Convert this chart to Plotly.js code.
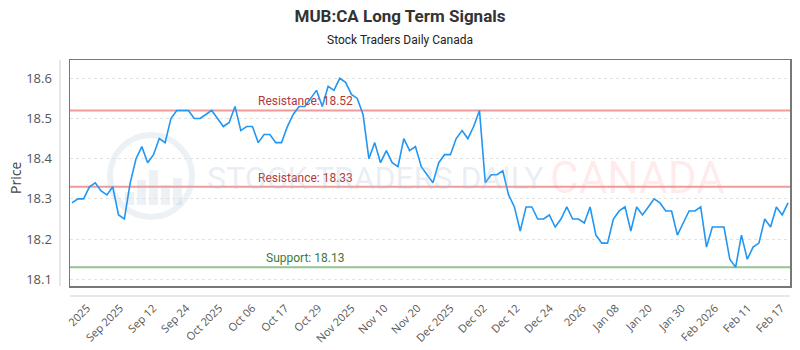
<!DOCTYPE html>
<html>
<head>
<meta charset="utf-8">
<script src="https://cdn.plot.ly/plotly-3.0.1.min.js"></script>
<style>
html,body{margin:0;padding:0;background:#fff;}
#chart{width:800px;height:350px;}
</style>
</head>
<body>
<div id="chart"></div>
<script>
// ---- data ----
const prices = [
  18.29, 18.30, 18.30, 18.33, 18.34, 18.32, 18.31, 18.33, 18.26, 18.25,
  18.34, 18.40, 18.43, 18.39, 18.41, 18.45, 18.44, 18.50, 18.52, 18.52,
  18.52, 18.50, 18.50, 18.51, 18.52, 18.50, 18.48, 18.49, 18.53, 18.47,
  18.48, 18.48, 18.44, 18.46, 18.46, 18.44, 18.44, 18.48, 18.51, 18.53,
  18.53, 18.55, 18.57, 18.53, 18.58, 18.57, 18.60, 18.59, 18.56, 18.55,
  18.51, 18.40, 18.44, 18.39, 18.42, 18.39, 18.38, 18.45, 18.42, 18.43,
  18.38, 18.36, 18.34, 18.39, 18.41, 18.41, 18.45, 18.47, 18.45, 18.48,
  18.52, 18.34, 18.36, 18.36, 18.37, 18.31, 18.28, 18.22, 18.28, 18.28,
  18.25, 18.25, 18.26, 18.23, 18.25, 18.28, 18.25, 18.25, 18.24, 18.28,
  18.21, 18.19, 18.19, 18.25, 18.27, 18.28, 18.22, 18.28, 18.26, 18.28,
  18.30, 18.29, 18.27, 18.27, 18.21, 18.24, 18.27, 18.27, 18.28, 18.18,
  18.23, 18.23, 18.23, 18.15, 18.13, 18.21, 18.15, 18.18, 18.19, 18.25,
  18.23, 18.28, 18.26, 18.29
];
const tickLabels = ["2025","Sep 2025","Sep 12","Sep 24","Oct 2025","Oct 06","Oct 17","Oct 29",
  "Nov 2025","Nov 10","Nov 20","Dec 2025","Dec 02","Dec 12","Dec 24","2026","Jan 08","Jan 20",
  "Jan 30","Feb 2026","Feb 11","Feb 17"];
const resistanceLevels = [18.52, 18.33];
const supportLevels = [18.13];
const yTicks = [18.1, 18.2, 18.3, 18.4, 18.5, 18.6];

// ---- build ----
const xIdx = prices.map((_, i) => i);
const n = prices.length;
const tickStart = 2.6, tickEnd = n - 1 - 1.2;
const tickStep = (tickEnd - tickStart) / (tickLabels.length - 1);
const tickVals = tickLabels.map((_, k) => tickStart + k * tickStep);

const shapes = [];
const annotations = [];
const labelX = (305 - 70) / 720;
resistanceLevels.forEach(v => {
  shapes.push({type:'line', xref:'paper', x0:0, x1:1, yref:'y', y0:v, y1:v,
    line:{color:'rgba(235,120,120,0.75)', width:2}, layer:'below'});
  annotations.push({xref:'paper', x:labelX, xanchor:'center', yref:'y', y:v, yshift:9,
    text:'Resistance: ' + v.toFixed(2), showarrow:false,
    font:{family:'Roboto, sans-serif', size:12, color:'#b03a3a'}});
});
supportLevels.forEach(v => {
  shapes.push({type:'line', xref:'paper', x0:0, x1:1, yref:'y', y0:v, y1:v,
    line:{color:'rgba(110,175,110,0.75)', width:2}, layer:'below'});
  annotations.push({xref:'paper', x:labelX, xanchor:'center', yref:'y', y:v, yshift:9,
    text:'Support: ' + v.toFixed(2), showarrow:false,
    font:{family:'Roboto, sans-serif', size:12, color:'#3c7a3c'}});
});
// offset light axis lines
shapes.push({type:'line', xref:'paper', yref:'paper', x0:-10/720, x1:-10/720, y0:0, y1:1,
  line:{color:'#cfcfcf', width:1}});
shapes.push({type:'line', xref:'paper', yref:'paper', x0:0, x1:1, y0:-10/226, y1:-10/226,
  line:{color:'#cfcfcf', width:1}});
// watermark logo
const wm = 'rgba(170,190,215,0.22)';
shapes.push({type:'circle', xref:'paper', yref:'paper', x0:(110-70)/720, x1:(192-70)/720,
  y0:(286-217)/226, y1:(286-135)/226, line:{color:wm, width:6}, layer:'below'});
[[125,134,192],[137,146,180],[149,158,170],[161,170,185],[173,182,178]].forEach(b => {
  shapes.push({type:'rect', xref:'paper', yref:'paper', x0:(b[0]-70)/720, x1:(b[1]-70)/720,
    y0:(286-205)/226, y1:(286-b[2])/226, fillcolor:wm, line:{width:0}, layer:'below'});
});
annotations.push({xref:'paper', yref:'paper', x:(205-70)/720, y:(286-178)/226, xanchor:'left',
  text:'STOCK TRADERS DAILY', showarrow:false,
  font:{family:'Roboto, sans-serif', size:32, color:'rgba(170,190,215,0.26)'}});
annotations.push({xref:'paper', yref:'paper', x:(548-70)/720, y:(286-178)/226, xanchor:'left',
  text:'CANADA', showarrow:false,
  font:{family:'Roboto, sans-serif', size:44, color:'rgba(255,130,130,0.16)'}});
annotations.push({xref:'paper', yref:'paper', x:(400-70)/720, y:(286-40)/226, xanchor:'center', yanchor:'middle',
  text:'Stock Traders Daily Canada', showarrow:false,
  font:{family:'Roboto, sans-serif', size:12, color:'#222'}});
annotations.push({xref:'paper', yref:'paper', x:(15-70)/720, y:(286-178)/226, xanchor:'center', yanchor:'middle',
  text:'Price', textangle:-90, showarrow:false,
  font:{family:'"Open Sans", sans-serif', size:14, color:'#444'}});

const trace = {
  x: xIdx, y: prices, type:'scatter', mode:'lines',
  line:{color:'#2196f3', width:1.6}, hoverinfo:'y'
};

const layout = {
  width:800, height:350,
  margin:{l:70, r:10, t:60, b:64},
  paper_bgcolor:'#fff', plot_bgcolor:'#fff',
  showlegend:false,
  title:{text:'<b>MUB:CA Long Term Signals</b>', x:0.5, xanchor:'center', y:1-16/350, yanchor:'middle',
    font:{family:'Roboto, sans-serif', size:17, color:'#333'}},
  xaxis:{
    range:[-0.34, n - 1 + 0.34], showgrid:false, zeroline:false,
    showline:true, mirror:true, linecolor:'#777', linewidth:1.5,
    tickmode:'array', tickvals:tickVals, ticktext:tickLabels, tickangle:-45,
    ticks:'outside', ticklen:10, tickcolor:'rgba(0,0,0,0)',
    tickfont:{family:'"Open Sans", sans-serif', size:11, color:'#555'}
  },
  yaxis:{
    range:[18.0833, 18.6455], zeroline:false,
    showline:true, mirror:true, linecolor:'#777', linewidth:1.5,
    tickmode:'array', tickvals:yTicks, ticktext:yTicks.map(v => v.toFixed(1)),
    showgrid:true, gridcolor:'#e2e2e2', griddash:'dot', gridwidth:1,
    ticks:'outside', ticklen:14, tickcolor:'rgba(0,0,0,0)',
    tickfont:{family:'"Open Sans", sans-serif', size:13, color:'#555'}
  },
  shapes: shapes,
  annotations: annotations
};

Plotly.newPlot('chart', [trace], layout, {displayModeBar:false, staticPlot:true});
</script>
</body>
</html>
